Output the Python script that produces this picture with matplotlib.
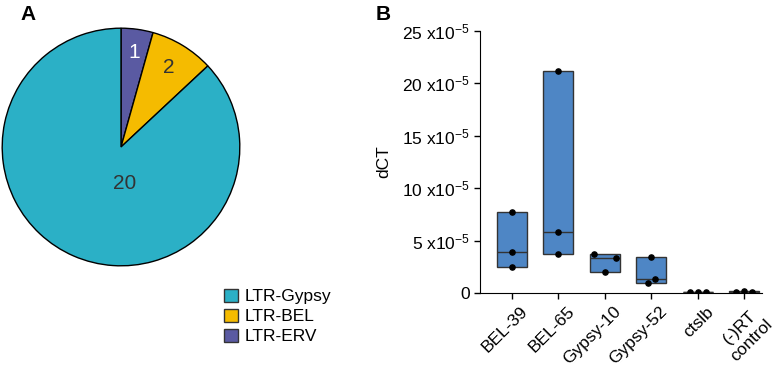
import matplotlib.pyplot as plt
import numpy as np

plt.rcParams['font.family'] = ['Liberation Sans', 'DejaVu Sans']
plt.rcParams['mathtext.fontset'] = 'custom'
plt.rcParams['mathtext.rm'] = 'Liberation Sans'
plt.rcParams['mathtext.it'] = 'Liberation Sans'
plt.rcParams['mathtext.bf'] = 'Liberation Sans:bold'

# panel A data
pie_labels = ["LTR-ERV", "LTR-BEL", "LTR-Gypsy"]
pie_counts = [1, 2, 20]
pie_colors = ["#5a5aa2", "#f5bb00", "#2bb0c6"]

# panel B data (units of 1e-5)
groups = ["BEL-39", "BEL-65", "Gypsy-10", "Gypsy-52", "ctslb", "(-)RT\ncontrol"]
values = [
    [7.7, 3.9, 2.5],
    [21.2, 5.8, 3.7],
    [3.7, 3.35, 2.0],
    [3.4, 1.35, 0.95],
    [0.06, 0.06, 0.06],
    [0.1, 0.15, 0.1],
]
jitter = [
    [0, 0, 0],
    [0, 0, 0],
    [-0.23, 0.25, 0],
    [0, 0.08, -0.08],
    [-0.17, 0, 0.17],
    [-0.17, 0, 0.17],
]

fig = plt.figure(figsize=(7.77, 3.75), dpi=100)

# ---- A: pie
axA = fig.add_axes([1/777, 108/375, 240/777, 240/375])
wedges, texts = axA.pie(pie_counts, colors=pie_colors, startangle=90, counterclock=False,
                        wedgeprops=dict(edgecolor="black", linewidth=1))
axA.set_aspect("equal")
axA.set_xlim(-1.01, 1.01)
axA.set_ylim(-1.01, 1.01)
# count labels
label_r = [0.8, 0.78, 0.31]
for w, n, r in zip(wedges, pie_counts, label_r):
    ang = np.deg2rad((w.theta1 + w.theta2) / 2)
    x, y = r * np.cos(ang), r * np.sin(ang)
    if n == 20:
        x, y = 0.03, -0.31
    col = "white" if n == 1 else "#333333"
    axA.text(x, y, str(n), ha="center", va="center", fontsize=15, color=col)

handles = [plt.Rectangle((0, 0), 1, 1, facecolor=c, edgecolor="#333333", linewidth=1)
           for c in pie_colors[::-1]]
fig.legend(handles, pie_labels[::-1], loc="upper left", bbox_to_anchor=(215/777, 1 - 280/375),
           frameon=False, fontsize=12.5, handlelength=0.8, handleheight=0.8,
           handletextpad=0.4, labelspacing=0.25, borderpad=0)

fig.text(20/777, 1 - 14/375, "A", fontsize=15, fontweight="bold", va="center", ha="left")
fig.text(376/777, 1 - 14/375, "B", fontsize=15, fontweight="bold", va="center", ha="left")

# ---- B: floating boxes
axB = fig.add_axes([480/777, 82/375, 282/777, 262/375])
x = np.arange(len(groups))
lo = [min(v) for v in values]
hi = [max(v) for v in values]
med = [np.median(v) for v in values]
axB.bar(x, np.array(hi) - np.array(lo), bottom=lo, width=0.65, color="#4e86c5",
        edgecolor="#333333", linewidth=1, zorder=2)
axB.hlines(med, x - 0.325, x + 0.325, color="#333333", linewidth=1, zorder=3)
for i, (v, j) in enumerate(zip(values, jitter)):
    axB.scatter(i + np.array(j), v, s=14, color="black", zorder=4)

axB.set_xlim(-0.68, 5.38)
axB.set_ylim(0, 25)
yt = [0, 5, 10, 15, 20, 25]
axB.set_yticks(yt)
axB.set_yticklabels(["0"] + [f"{t} x10$^{{-5}}$" for t in yt[1:]], fontsize=12.5)
axB.set_xticks(x)
axB.set_xticklabels([])
# rotated group labels, set a bit right of and below each tick
for i, g in enumerate(groups):
    axB.annotate(g, xy=(i, 0), xycoords=("data", "axes fraction"), xytext=(6, -8),
                 textcoords="offset points", rotation=45, ha="right", va="top",
                 rotation_mode="anchor", multialignment="center",
                 fontsize=12.5, annotation_clip=False)
axB.set_ylabel("dCT", fontsize=12.5, labelpad=8)
axB.spines["top"].set_visible(False)
axB.spines["right"].set_visible(False)
axB.tick_params(direction="out", length=4, width=1)

fig.savefig("out.png", dpi=100)
